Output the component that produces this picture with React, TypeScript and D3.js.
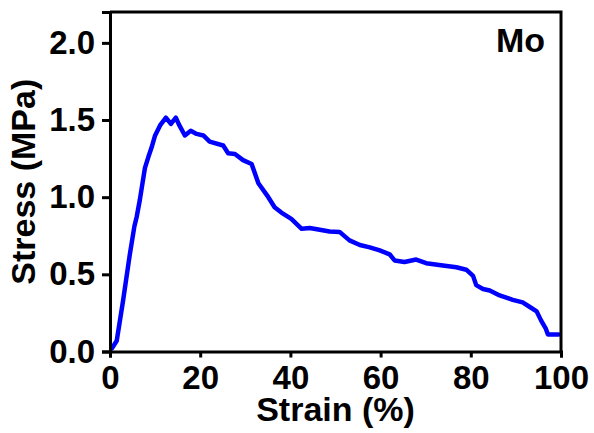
import React from 'react'
import * as d3 from 'd3'

// strain (%)
const strain = [
  0.4, 1.5, 2.9, 4.4, 5.4, 5.9, 6.6, 7.75, 8.5, 9.2, 10.0, 11.1, 12.4, 13.5, 14.6, 15.3, 16.6,
  17.9, 19.2, 20.7, 22.1, 25.1, 26.2, 27.7, 29.5, 31.4, 32.9, 35.1, 36.5, 38.0, 40.2, 42.5,
  44.3, 48.7, 50.9, 53.1, 55.4, 57.6, 59.8, 62.0, 63.1, 65.3, 67.9, 70.1, 73.8, 76.8, 79.0,
  80.5, 81.2, 82.7, 84.2, 86.4, 89.3, 91.5, 93.0, 94.6, 95.6, 96.6, 97.1, 99.5,
]
// stress (MPa)
const stress = [
  0.02, 0.07, 0.33, 0.63, 0.81, 0.87, 0.98, 1.19, 1.26, 1.32, 1.4, 1.465, 1.515, 1.475, 1.515,
  1.47, 1.4, 1.43, 1.41, 1.4, 1.36, 1.335, 1.285, 1.28, 1.24, 1.215, 1.09, 1.0, 0.935, 0.9,
  0.86, 0.795, 0.8, 0.778, 0.775, 0.72, 0.69, 0.675, 0.655, 0.63, 0.59, 0.58, 0.596, 0.572,
  0.557, 0.546, 0.53, 0.49, 0.43, 0.405, 0.395, 0.363, 0.335, 0.318, 0.29, 0.26, 0.2, 0.15,
  0.11, 0.11,
]
const xTicks = [0, 20, 40, 60, 80, 100]
const yTicks = [0, 0.5, 1.0, 1.5, 2.0]

const width = 594
const height = 433
const margin = { top: 12, right: 33, bottom: 82, left: 110 }
const font = "'Liberation Sans', Arial, sans-serif"

export default function App() {
  const svgRef = React.useRef<SVGSVGElement>(null)

  React.useEffect(() => {
    const svg = d3.select(svgRef.current)
    svg.selectAll('*').remove()

    const x = d3.scaleLinear().domain([0, 100]).range([margin.left, width - margin.right])
    const y = d3.scaleLinear().domain([0, 2.2]).range([height - margin.bottom + 0.5, margin.top])

    const data = strain.map((s, i) => [s, stress[i]] as [number, number])

    // curve
    svg
      .append('path')
      .datum(data)
      .attr('fill', 'none')
      .attr('stroke', '#0000ff')
      .attr('stroke-width', 4.5)
      .attr('stroke-linejoin', 'round')
      .attr('stroke-linecap', 'round')
      .attr(
        'd',
        d3
          .line<[number, number]>()
          .x((d) => x(d[0]))
          .y((d) => y(d[1]))
      )

    // frame top + right
    svg
      .append('path')
      .attr('fill', 'none')
      .attr('stroke', 'black')
      .attr('stroke-width', 3)
      .attr('d', `M${x(0)},${y(2.2)}H${x(100)}V${y(0)}`)

    // X axis
    const gx = svg
      .append('g')
      .attr('transform', `translate(0, ${y(0)})`)
      .call(d3.axisBottom(x).tickValues(xTicks).tickSize(6).tickPadding(8))
    gx.select('.domain').attr('stroke-width', 3)
    gx.selectAll('.tick line').attr('stroke-width', 3)
    gx.selectAll('text')
      .attr('font-family', font)
      .attr('font-weight', 'bold')
      .attr('font-size', 33)
      .attr('fill', 'black')

    // Y axis
    const gy = svg
      .append('g')
      .attr('transform', `translate(${x(0)}, 0)`)
      .call(
        d3
          .axisLeft(y)
          .tickValues(yTicks)
          .tickSize(8)
          .tickPadding(7)
          .tickFormat(d3.format('.1f'))
      )
    gy.select('.domain').attr('stroke-width', 3)
    gy.selectAll('.tick line').attr('stroke-width', 3)
    gy.selectAll('text')
      .attr('font-family', font)
      .attr('font-weight', 'bold')
      .attr('font-size', 33)
      .attr('fill', 'black')

    // axis titles
    svg
      .append('text')
      .attr('x', (x(0) + x(100)) / 2)
      .attr('y', 421)
      .attr('text-anchor', 'middle')
      .attr('font-family', font)
      .attr('font-weight', 'bold')
      .attr('font-size', 34)
      .text('Strain (%)')

    svg
      .append('text')
      .attr('transform', `translate(35, ${(y(0) + y(2.2)) / 2}) rotate(-90)`)
      .attr('text-anchor', 'middle')
      .attr('font-family', font)
      .attr('font-weight', 'bold')
      .attr('font-size', 34)
      .text('Stress (MPa)')

    // sample label
    svg
      .append('text')
      .attr('x', 545)
      .attr('y', 51.5)
      .attr('text-anchor', 'end')
      .attr('font-family', font)
      .attr('font-weight', 'bold')
      .attr('font-size', 34)
      .text('Mo')
  }, [])

  return (
    <svg
      ref={svgRef}
      width={width}
      height={height}
      style={{ position: 'absolute', left: 0, top: 0, background: 'white' }}
    ></svg>
  )
}
